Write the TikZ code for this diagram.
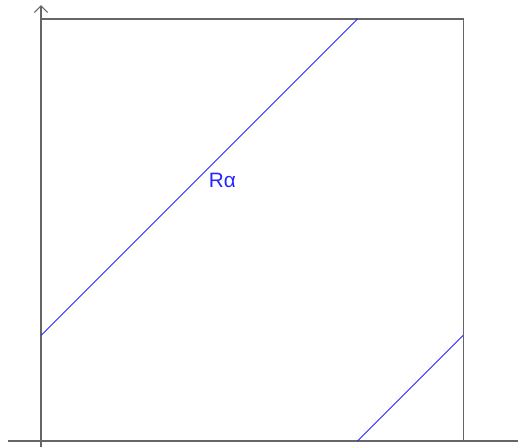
\documentclass[tikz,border=0pt]{standalone}
\usepackage{fontspec}
\setmainfont{Liberation Sans}
\usetikzlibrary{calc, positioning, arrows.meta}

\begin{document}
\begin{tikzpicture}[scale=1]
\useasboundingbox (-0.972,-0.142) rectangle (11.303,10.45);
% axes
\draw[-{Straight Barb[length=4.5pt, width=9pt]}, gray!80!black, line width=0.7pt] (-0.78,0) -- (11.6,0);
\draw[-{Straight Barb[length=4.5pt, width=9pt]}, gray!80!black, line width=0.7pt] (0,-0.14) -- (0,10.33);
% unit square
\draw[gray!80!black, line width=0.7pt] (0,0) rectangle (10,10);
% rotation R alpha
\draw[blue!85!white, line width=0.6pt] (0,2.5) -- (7.5,10);
\draw[blue!85!white, line width=0.6pt] (7.5,0) -- (10,2.5);
\node[blue!85!white, font=\fontsize{14}{16}\selectfont] (ralpha) at (4.3,6.18) {Rα};
\end{tikzpicture}
\end{document}
